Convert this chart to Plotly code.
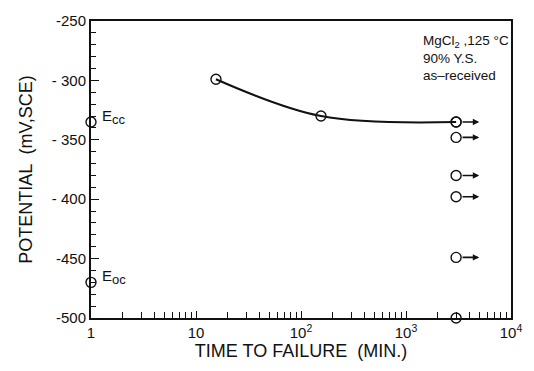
import math
import plotly.graph_objects as go

# Reference potentials measured at t = 1 min
ref_time = [1, 1]
ref_potential = [-335, -470]
ref_labels = ["E<sub><span style='font-size:13px'>cc</span></sub>",
              "E<sub><span style='font-size:13px'>oc</span></sub>"]

# Time-to-failure curve
curve_time = [15.5, 155, 3000]
curve_potential = [-299, -330, -335]

# Specimens that had not failed (run-outs) at 3000 min
runout_time = [3000, 3000, 3000, 3000, 3000, 3000]
runout_potential = [-335, -348, -380, -398, -449, -500]
runout_arrow = [True, True, True, True, True, False]

x_tickvals = [1, 10, 100, 1000, 10000]
x_ticktext = ["1", "10", "10<sup>2</sup>", "10<sup>3</sup>", "10<sup>4</sup>"]
y_tickvals = [-250, -300, -350, -400, -450, -500]
y_ticktext = ["-250", "- 300", "- 350", "- 400", "-450", "-500"]

font_family = "Liberation Sans, Arial, sans-serif"
ink = "#111111"

fig = go.Figure()

fig.add_trace(go.Scatter(
    x=curve_time, y=curve_potential, mode="lines",
    line=dict(color=ink, width=2, shape="spline", smoothing=1.0),
    showlegend=False, hoverinfo="skip"))

marker = dict(symbol="circle-open", size=10, color=ink, line=dict(width=1.4, color=ink))
fig.add_trace(go.Scatter(x=curve_time, y=curve_potential, mode="markers",
                         marker=marker, showlegend=False, cliponaxis=False))
fig.add_trace(go.Scatter(x=runout_time, y=runout_potential, mode="markers",
                         marker=marker, showlegend=False, cliponaxis=False))
fig.add_trace(go.Scatter(x=ref_time, y=ref_potential, mode="markers",
                         marker=marker, showlegend=False, cliponaxis=False))

# run-out arrows start at the circle's right edge
for t, p, a in zip(runout_time, runout_potential, runout_arrow):
    if not a:
        continue
    fig.add_annotation(x=math.log10(t) + 0.22, y=p, ax=math.log10(t) + 0.047, ay=p,
                       xref="x", yref="y", axref="x", ayref="y", text="",
                       showarrow=True, arrowhead=2, arrowsize=0.8, arrowwidth=1.6,
                       arrowcolor=ink)

for t, p, lab in zip(ref_time, ref_potential, ref_labels):
    fig.add_annotation(x=math.log10(t), y=p, text=lab, showarrow=False,
                       xref="x", yref="y", xanchor="left", xshift=9, yshift=5,
                       font=dict(size=15, color=ink, family=font_family))

fig.add_annotation(x=0.785, y=0.965, xref="paper", yref="paper", xanchor="left",
                   yanchor="top", align="left", showarrow=False,
                   text="MgCl<sub>2</sub> ,125 °C<br>90% Y.S.<br>as–received",
                   font=dict(size=13.5, color=ink, family=font_family))

fig.update_xaxes(type="log", range=[0, 4], tickvals=x_tickvals, ticktext=x_ticktext,
                 ticks="inside", ticklen=7, tickwidth=1.2, tickcolor=ink,
                 minor=dict(ticks="inside", ticklen=6, tickwidth=1.2, tickcolor=ink,
                            dtick="D1", showgrid=False),
                 showline=True, linecolor=ink, linewidth=2, mirror=True,
                 showgrid=False, zeroline=False,
                 tickfont=dict(size=15, color=ink, family=font_family),
                 title=dict(text="TIME TO FAILURE  (MIN.)", standoff=4,
                            font=dict(size=18, color=ink, family=font_family)))
fig.update_yaxes(range=[-500, -250], tickvals=y_tickvals, ticktext=y_ticktext,
                 ticks="inside", ticklen=8, tickwidth=1.2, tickcolor=ink,
                 minor=dict(ticks="inside", ticklen=5, tickwidth=1.2, tickcolor=ink,
                            dtick=10, showgrid=False),
                 showline=True, linecolor=ink, linewidth=2, mirror=True,
                 showgrid=False, zeroline=False,
                 tickfont=dict(size=15, color=ink, family=font_family),
                 title=dict(text="POTENTIAL  (mV,SCE)", standoff=14,
                            font=dict(size=18, color=ink, family=font_family)))

fig.update_layout(width=534, height=371, margin=dict(l=91, r=16, t=13, b=53),
                  paper_bgcolor="white", plot_bgcolor="white")

fig.write_html("out.html")
